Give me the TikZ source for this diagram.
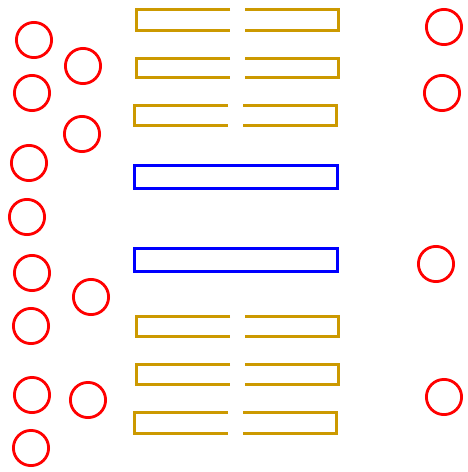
\documentclass[tikz,border=0pt]{standalone}
\definecolor{plategold}{RGB}{204,153,0}
\begin{document}
\begin{tikzpicture}[x=1pt, y=-1pt,
  ring/.style={draw=red, line width=2.8pt},
  plate/.style={draw=plategold, line width=2.8pt},
  bar/.style={draw=blue, line width=3pt}
]
  \useasboundingbox (0,0) rectangle (467,472);
  % red rings
  \foreach \cx/\cy in {34/40, 83/66, 32/93, 82/134, 29/163, 27/217,
                       32/273, 91/297, 31/326, 32/395, 88/400, 31/448,
                       444/27, 442/93, 436/264, 444/397}
    \draw[ring] (\cx,\cy) circle (17.6);
  % split plates
  \foreach \dx/\ya/\yb in {0/9.5/30.2, 0/58.5/77.5, -2/105.5/125.5,
                           0/316.5/336.5, 0/364.5/384.5, -2/412.5/433.5}
    \draw[plate] (230+\dx,\ya) -| (136.5+\dx,\yb) -- (230+\dx,\yb)
                 (245+\dx,\ya) -| (338.5+\dx,\yb) -- (245+\dx,\yb);
  % blue bars
  \draw[bar] (134.5,165.5) rectangle (337.5,188.5);
  \draw[bar] (134.5,248.5) rectangle (337.5,271.5);
\end{tikzpicture}
\end{document}
